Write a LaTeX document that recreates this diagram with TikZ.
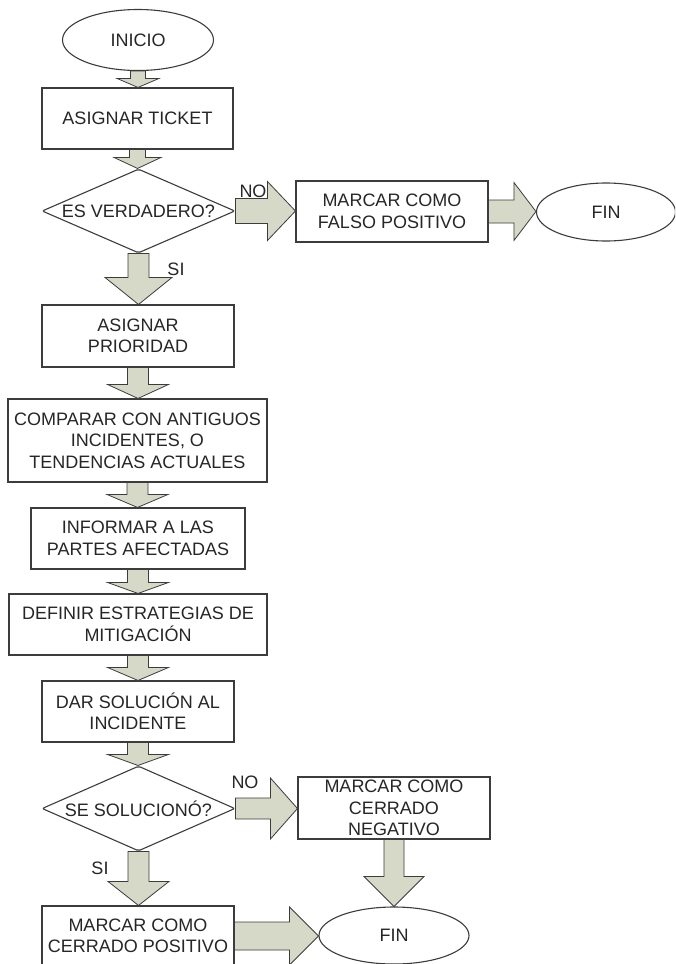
\documentclass[tikz,border=0pt]{standalone}
\usepackage{fontspec}
\setmainfont{Liberation Sans}
\usetikzlibrary{shapes.geometric,calc}
\definecolor{arrfill}{RGB}{214,217,199}
\definecolor{linec}{RGB}{60,60,60}
\definecolor{txtc}{RGB}{38,38,38}
\tikzset{
 base/.style={draw=linec, line width=1.1pt, fill=white, text=txtc, inner sep=0pt, font=\fontsize{18}{21.5}\selectfont, align=center},
 procbox/.style={base, rectangle},
 termbox/.style={base, ellipse},
 decbox/.style={base, diamond, rounded corners=2pt},
 lbl/.style={text=txtc, font=\fontsize{18}{21.5}\selectfont, inner sep=0pt},
 blk/.style={draw=linec, line width=0.8pt, fill=arrfill, line join=miter},
}
\newcommand\downblock[5]{\draw[blk] let \p1=(#1), \p2=(#2) in (\x1-#3,\y1) -- (\x1+#3,\y1) -- (\x1+#3,\y2+#5) -- (\x1+#4,\y2+#5) -- (\x1,\y2) -- (\x1-#4,\y2+#5) -- (\x1-#3,\y2+#5) -- cycle;}
\newcommand\rightblock[5]{\draw[blk] let \p1=(#1), \p2=(#2) in (\x1,\y1-#3) -- (\x2-#5,\y1-#3) -- (\x2-#5,\y1-#4) -- (\x2,\y1) -- (\x2-#5,\y1+#4) -- (\x2-#5,\y1+#3) -- (\x1,\y1+#3) -- cycle;}
\begin{document}
\begin{tikzpicture}[x=1pt,y=-1pt]
\useasboundingbox (0,0) rectangle (675,964);
\clip (0,0) rectangle (675,964);
\fill[white] (0,0) rectangle (675,964);
% nodes
\node[termbox, minimum width=151pt, minimum height=61pt] (inicio) at (138,40) {INICIO};
\node[procbox, minimum width=191pt, minimum height=61pt] (ticket) at (137.5,118.5) {ASIGNAR TICKET};
\node[decbox, minimum width=193pt, minimum height=84pt] (verd) at (138.5,211) {};
\node[lbl] (verdt) at (verd.center) {ES VERDADERO?};
\node[procbox, minimum width=192pt, minimum height=61pt] (falso) at (392,211.5) {MARCAR COMO\\FALSO POSITIVO};
\node[termbox, minimum width=139pt, minimum height=58pt] (fin1) at (606,212) {FIN};
\node[procbox, minimum width=192pt, minimum height=62pt] (prior) at (138,336) {ASIGNAR\\PRIORIDAD};
\node[procbox, minimum width=259pt, minimum height=83pt] (comp) at (137.5,440.5) {COMPARAR CON ANTIGUOS\\INCIDENTES, O\\TENDENCIAS ACTUALES};
\node[procbox, minimum width=214pt, minimum height=61pt] (inform) at (138,538.5) {INFORMAR A LAS\\PARTES AFECTADAS};
\node[procbox, minimum width=258pt, minimum height=61pt] (defin) at (138,624.5) {DEFINIR ESTRATEGIAS DE\\MITIGACIÓN};
\node[procbox, minimum width=192pt, minimum height=61pt] (dar) at (138,711.5) {DAR SOLUCIÓN AL\\INCIDENTE};
\node[decbox, minimum width=193pt, minimum height=85pt] (solu) at (138.5,808.5) {};
\node[lbl] (solut) at (solu.center) {SE SOLUCIONÓ?};
\node[procbox, minimum width=192pt, minimum height=62pt] (neg) at (394,808) {MARCAR COMO\\CERRADO\\NEGATIVO};
\node[procbox, minimum width=192pt, minimum height=60pt] (pos) at (138,936) {MARCAR COMO\\CERRADO POSITIVO};
\node[termbox, minimum width=150pt, minimum height=57pt] (fin2) at (394,935.5) {FIN};
% labels
\node[lbl] (no1) at (253,191) {NO};
\node[lbl] (si1) at (176,269) {SI};
\node[lbl] (no2) at (245,782) {NO};
\node[lbl] (si2) at (100,868) {SI};
% block arrows
\downblock{inicio.south}{ticket.north}{7.5pt}{21pt}{9pt}
\downblock{ticket.south}{verd.north}{8pt}{23.5pt}{11pt}
\rightblock{verd.east}{falso.west}{12.5pt}{29.5pt}{28pt}
\rightblock{falso.east}{fin1.west}{11.5pt}{29pt}{22pt}
\downblock{verd.south}{prior.north}{10.5pt}{33.5pt}{27pt}
\downblock{prior.south}{comp.north}{10.5pt}{30.5pt}{14pt}
\downblock{comp.south}{inform.north}{10.5pt}{30.5pt}{13pt}
\downblock{inform.south}{defin.north}{10.5pt}{30.5pt}{11pt}
\downblock{defin.south}{dar.north}{10.5pt}{30.5pt}{13pt}
\downblock{dar.south}{solu.north}{10.5pt}{30.5pt}{11pt}
\rightblock{solu.east}{neg.west}{10.5pt}{30.5pt}{27pt}
\downblock{solu.south}{pos.north}{10.5pt}{30.5pt}{24pt}
\downblock{neg.south}{fin2.north}{10pt}{30pt}{30pt}
\rightblock{pos.east}{fin2.west}{14pt}{29pt}{29pt}
\end{tikzpicture}
\end{document}
